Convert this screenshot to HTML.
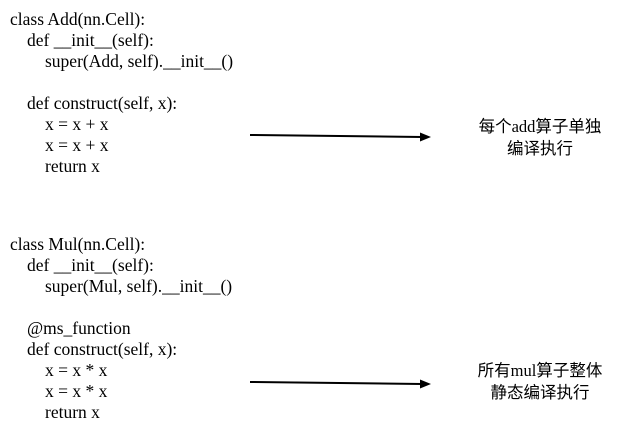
<!DOCTYPE html>
<html><head><style>
body{margin:0;width:618px;height:436px;background:#fff;position:relative;overflow:hidden}
.c{position:absolute;font-family:"Liberation Serif",serif;font-size:17.5px;color:#000;line-height:21px}
.c div{height:21px;white-space:pre}
.a{padding-left:17px}.b{padding-left:35px}
.l{position:absolute;font-family:"Liberation Serif","Noto Sans CJK SC",sans-serif;font-size:16.5px;color:#000;text-align:center;line-height:22px;width:180px}
</style></head><body>
<div class="c" style="left:10px;top:9px"><div>class Add(nn.Cell):</div><div class="a">def __init__(self):</div><div class="b">super(Add, self).__init__()</div><div></div><div class="a">def construct(self, x):</div><div class="b">x = x + x</div><div class="b">x = x + x</div><div class="b">return x</div></div>
<div class="c" style="left:10px;top:234px"><div>class Mul(nn.Cell):</div><div class="a">def __init__(self):</div><div class="b">super(Mul, self).__init__()</div><div></div><div class="a">@ms_function</div><div class="a">def construct(self, x):</div><div class="b">x = x * x</div><div class="b">x = x * x</div><div class="b">return x</div></div>
<svg width="618" height="436" style="position:absolute;left:0;top:0">
<line x1="250" y1="135" x2="422" y2="137" stroke="#000" stroke-width="2"/>
<polygon points="431,137 420,132.5 420,141.5" fill="#000"/>
<line x1="250" y1="382" x2="422" y2="384" stroke="#000" stroke-width="2"/>
<polygon points="431,384 420,379.5 420,388.5" fill="#000"/>
</svg>
<div class="l" style="left:450px;top:116px">每个add算子单独<br>编译执行</div>
<div class="l" style="left:450px;top:360px">所有mul算子整体<br>静态编译执行</div>
</body></html>
